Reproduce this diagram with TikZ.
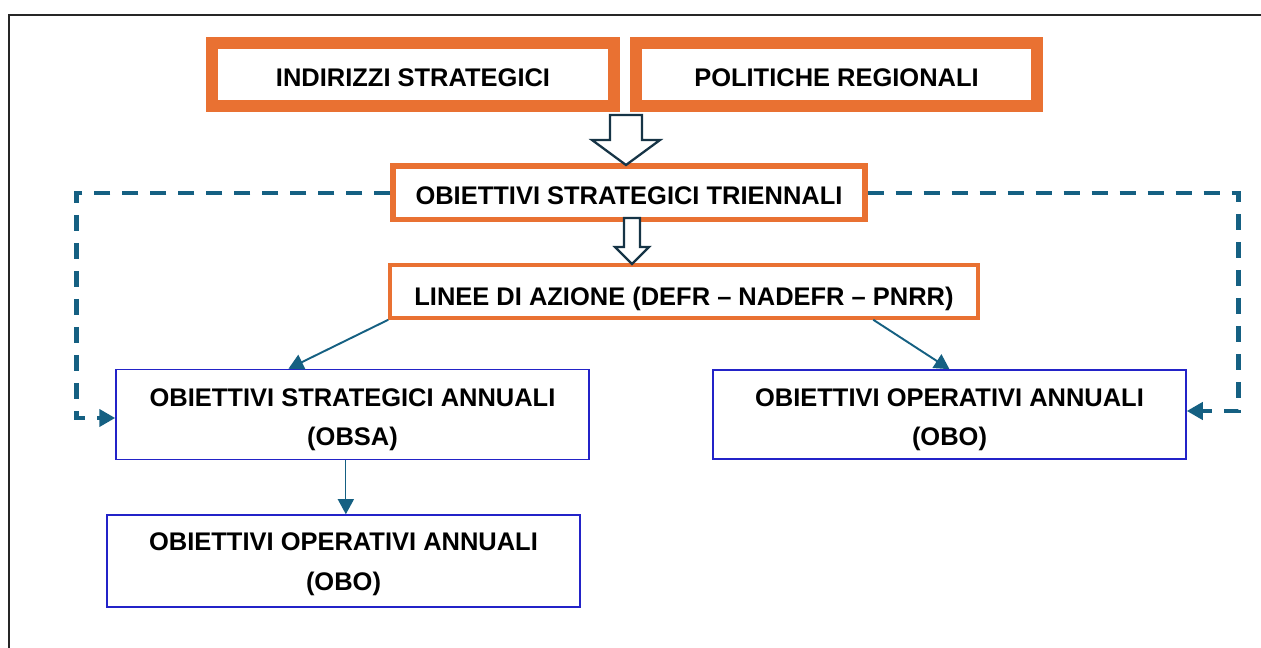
\documentclass[tikz,border=0pt]{standalone}
\usepackage{fontspec}
\setmainfont{Liberation Sans}
\usetikzlibrary{arrows.meta,calc}
\definecolor{boxorange}{HTML}{E97132}
\definecolor{boxblue}{HTML}{2323C8}
\definecolor{linkteal}{HTML}{156082}
\definecolor{arrowdark}{HTML}{163446}
\tikzset{boxtext/.style={font=\fontsize{14.5}{22.7}\selectfont\bfseries,align=center,inner sep=0pt,
        text height=13.6pt,text depth=0pt},
        topbox/.style={boxtext,draw=boxorange,line width=6.8pt,minimum width=8.04cm,minimum height=1.26cm},
        trienbox/.style={boxtext,draw=boxorange,line width=3.1pt,minimum width=9.44cm,minimum height=1.07cm},
        lineebox/.style={boxtext,draw=boxorange,line width=2pt,minimum width=11.76cm,minimum height=1.06cm,
        text height=16pt},
        annualbox/.style={boxtext,draw=boxblue,line width=0.9pt,minimum width=9.46cm,minimum height=1.8cm,
        text height=35.8pt},
        blockarrow/.style={draw=arrowdark,fill=white,line width=1.3pt,line join=miter},
        conn/.style={draw=linkteal,line width=1.1pt,-{Triangle[length=0.3cm,width=0.32cm]}},
        dashconn/.style={draw=linkteal,line width=2.3pt,dash pattern=on 0.32cm off 0.24cm,
        -{Triangle[length=0.32cm,width=0.34cm]}}}

\begin{document}
\begin{tikzpicture}[x=0.02cm,y=-0.02cm]
  \useasboundingbox (0,0) rectangle (1261,648);
  % frame
  \draw[line width=1.2pt,black!85] (9,648) -- (9,15) -- (1261,15);
  % boxes
  \node[topbox] (indir) at (413,74.5) {INDIRIZZI STRATEGICI};
  \node[topbox] (polit) at (836.5,74.5) {POLITICHE REGIONALI};
  \node[trienbox] (obst) at (629,192.75) {OBIETTIVI STRATEGICI TRIENNALI};
  \node[lineebox] (linee) at (684,291.5) {LINEE DI AZIONE (DEFR -- NADEFR -- PNRR)};
  \node[annualbox] (obsa) at (352.5,414.5) {OBIETTIVI STRATEGICI ANNUALI\\(OBSA)};
  \node[annualbox,minimum height=1.78cm] (oboa) at (949.5,414.5) {OBIETTIVI OPERATIVI ANNUALI\\(OBO)};
  \node[annualbox,minimum height=1.84cm,text height=34pt] (obob) at (343.5,561) {OBIETTIVI OPERATIVI ANNUALI\\(OBO)};
  % block arrows
  \begin{scope}[shift={(626,115)}]
    \draw[blockarrow] (-16,0) -- (16,0) -- (16,25) -- (34,25) -- (0,50) -- (-34,25) -- (-16,25) -- cycle;
  \end{scope}
  \begin{scope}[shift={(632,218)}]
    \draw[blockarrow] (-8,0) -- (8,0) -- (8,29) -- (17,29) -- (0,46) -- (-17,29) -- (-8,29) -- cycle;
  \end{scope}
  % connectors
  \draw[conn] (linee.south west) -- ($(obsa.north west)!0.365!(obsa.north east)$);
  \draw[conn] ($(linee.south west)!0.82!(linee.south east)$) -- (oboa.north);
  \draw[conn,line width=0.7pt] ($(obsa.south west)!0.486!(obsa.south east)$) coordinate (v) -- (v |- obob.north);
  % dashed feedback
  \coordinate (lcorner) at (76.5,418);
  \coordinate (rcorner) at (1238.5,411);
  \draw[dashconn] (obst.west) -| (lcorner) -- (lcorner -| obsa.west);
  \draw[dashconn] (obst.east) -| (rcorner) -- (rcorner -| oboa.east);
\end{tikzpicture}
\end{document}
